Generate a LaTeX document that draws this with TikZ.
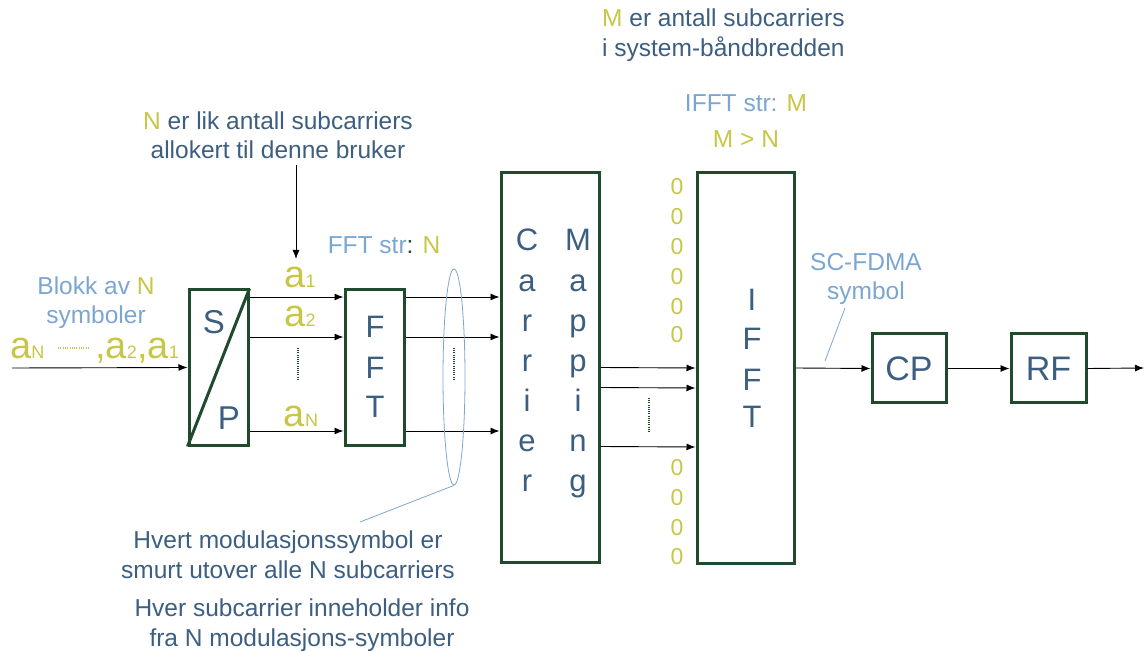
\documentclass[tikz,border=0pt]{standalone}
\usepackage{fontspec}
\setmainfont{Liberation Sans}
\usetikzlibrary{arrows.meta,shapes.geometric}
\definecolor{dblue}{HTML}{3C5E80}
\definecolor{lblue}{HTML}{7BA6D2}
\definecolor{olive}{HTML}{C8C646}
\definecolor{bgreen}{HTML}{1F4A2C}
\newcommand{\fs}[1]{\fontsize{#1}{#1}\selectfont}
\newcommand{\nf}{\fontsize{24.5}{29.5}\selectfont}
\begin{document}
\begin{tikzpicture}[x=1pt,y=-1pt,
  box/.style={draw=bgreen, line width=3pt, fill=white, inner sep=0pt},
  arr/.style={-{Latex[length=9pt,width=7pt]}, line width=0.9pt},
  letter/.style={text=dblue, font=\fs{31}, inner sep=0pt},
  note/.style={text=dblue, font=\nf, align=center, inner sep=0pt},
  lnote/.style={text=lblue, font=\nf, align=center, inner sep=0pt},
  zero/.style={text=olive, font=\fs{23}, inner sep=0pt},
  sym/.style={text=olive, inner sep=0pt},
  dotv/.style={bgreen, line width=1.3pt, dash pattern=on 1pt off 1.2pt},
  ptr/.style={lblue, line width=0.8pt}]
\useasboundingbox (0,0) rectangle (1144,652);

% boxes
\node[box, minimum width=59pt, minimum height=155pt] (sp) at (218.5,367.5) {};
\node[box, minimum width=59pt, minimum height=155pt] (fft) at (374.5,367.5) {};
\node[box, minimum width=98pt, minimum height=389pt] (cm) at (550,367.5) {};
\node[box, minimum width=97pt, minimum height=390pt] (ifft) at (745.5,368) {};
\node[box, minimum width=74pt, minimum height=69pt] (cp) at (909,368.5) {};
\node[box, minimum width=75pt, minimum height=69pt] (rf) at (1048.5,368.5) {};

\draw[bgreen, line width=3pt] (sp.south west) -- (sp.north east);
\node[letter, font=\fs{33}] (ls) at (214,322) {S};
\node[letter, font=\fs{33}] (lp) at (229,418) {P};

\node[letter] (f1) at (375,327) {F};
\node[letter] (f2) at (375,368) {F};
\node[letter] (f3) at (375,407) {T};

\foreach \ch/\y [count=\i] in {C/240,a/281,r/321,r/361,i/401,e/440,r/480}
  \node[letter, anchor=base] (cl\i) at (527,\y+11) {\ch};
\foreach \ch/\y [count=\i] in {M/240,a/281,p/321,p/361,i/401,n/440,g/480}
  \node[letter, anchor=base] (ml\i) at (578,\y+11) {\ch};

\node[letter] (i1) at (752,300) {I};
\node[letter] (i2) at (752,339) {F};
\node[letter] (i3) at (752,380) {F};
\node[letter] (i4) at (752,417) {T};

\node[letter, font=\fs{34}] (tcp) at (cp) {CP};
\node[letter, font=\fs{34}] (trf) at (rf) {RF};

% zeros
\foreach \y [count=\i] in {187,217,247,277,307,335,468,498,528,557}
  \node[zero] (z\i) at (677,\y) {0};

% input
\coordinate (in) at (12,368);
\draw[arr] (in) -- (sp.west);
\node[lnote] (blokk) at (96,302.5) {Blokk av \textcolor{olive}{N}\\symboler};
\node[sym, anchor=base west] (an) at (10,359) {\fs{38}a\fs{18}N};
\draw[olive, line width=1.4pt, dash pattern=on 1pt off 1.3pt] (58,348) -- (90,348);
\node[sym, anchor=base west] (as2) at (95,359) {\fs{38},a\fs{18}2};
\node[sym, anchor=base west] (as1) at (137,359) {\fs{38},a\fs{18}1};

% S/P -> FFT -> CM
\foreach \s in {70.5,30.5,-63.5}{
  \draw[arr] ([yshift=\s pt]sp.east) -- ([yshift=\s pt]fft.west);
  \draw[arr] ([yshift=\s pt]fft.east) -- ([yshift=\s pt]cm.west);
}
\node[sym, anchor=base] (a1) at (300,288) {\fs{38}a\fs{18}1};
\node[sym, anchor=base] (a2) at (300,327) {\fs{38}a\fs{18}2};
\node[sym, anchor=base] (aN) at (301,427) {\fs{38}a\fs{18}N};
\draw[dotv] (298,348) -- (298,380);
\draw[dotv] (454,348) -- (454,380);

% N note
\node[note] (nnote) at (278,135) {\textcolor{olive}{N} er lik antall subcarriers\\allokert til denne bruker};
\coordinate (ntop) at (296,165);
\coordinate (nbot) at (296,259);
\draw[arr] (ntop) -- (nbot);

\node[lnote] (fftstr) at (384,245) {FFT str\textcolor{bgreen}{:} \textcolor{olive}{N}};

% ellipse
\node[ellipse, draw=lblue, line width=0.8pt, minimum width=22pt, minimum height=216pt, inner sep=0pt] (ell) at (454,377) {};
\coordinate (ellp) at (360,522);
\draw[ptr] (ell.south) -- (ellp);

% CM -> IFFT
\draw[arr] (cm.east) -- (ifft.west);
\draw[arr] ([yshift=-20pt]cm.east) -- ([yshift=-20pt]ifft.west);
\draw[arr] ([yshift=-79pt]cm.east) -- ([yshift=-79pt]ifft.west);
\draw[dotv] (649,398) -- (649,432);

% M notes
\node[note, align=left, anchor=west] (mnote) at (602,35) {\textcolor{olive}{M} er antall subcarriers\\i system-båndbredden};
\node[lnote] (ifftstr) at (746,103) {IFFT str: \textcolor{olive}{M}};
\node[note, text=olive] (mgn) at (746,139) {M > N};

% output chain
\draw[arr] (ifft.east) -- (cp.west);
\draw[arr] (cp.east) -- (rf.west);
\coordinate (out) at (1144,368);
\draw[arr] (rf.east) -- (out);

\node[lnote] (scf) at (866,279) {SC-FDMA\\symbol};
\coordinate (scp1) at (845,308);
\coordinate (scp2) at (825,361);
\draw[ptr] (scp1) -- (scp2);

% bottom notes
\node[note] (hv1) at (288,554.5) {Hvert modulasjonssymbol er\\smurt utover alle N subcarriers};
\node[note] (hv2) at (302,625) {Hver subcarrier inneholder info\\fra N modulasjons-symboler};
\end{tikzpicture}
\end{document}
